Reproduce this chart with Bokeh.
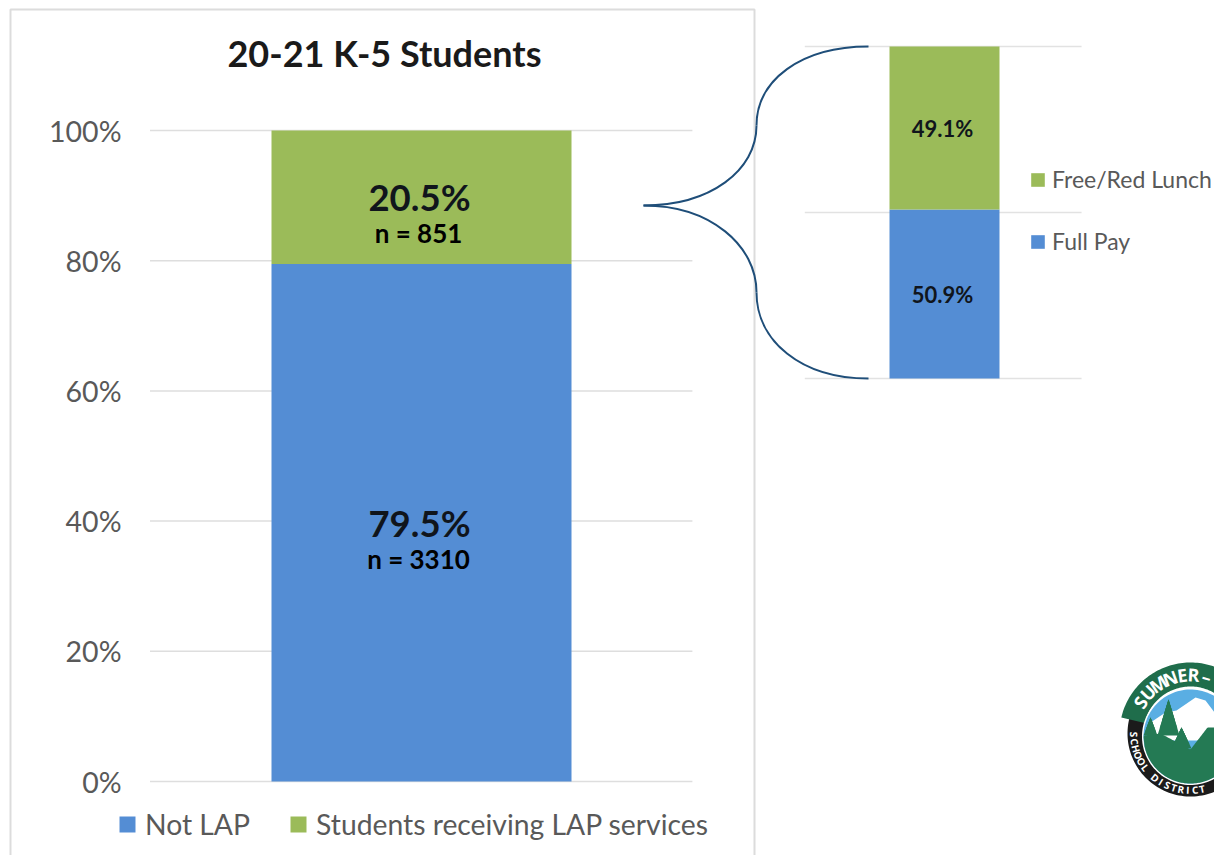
import numpy as np
from bokeh.plotting import figure
from bokeh.models import Range1d, LinearAxis, FixedTicker, PrintfTickFormatter, Legend, LegendItem
from bokeh.core.properties import value
from bokeh.embed import file_html
from bokeh.resources import INLINE

# ---- data ----
title = "20-21 K-5 Students"
main_series = ["Not LAP", "Students receiving LAP services"]
main_values = [79.5, 20.5]
main_counts = ["n = 3310", "n = 851"]
detail_series = ["Full Pay", "Free/Red Lunch"]
detail_values = [50.9, 49.1]
main_ticks = [0, 20, 40, 60, 80, 100]
detail_ticks = [0, 50, 100]
blue, green = "#548dd4", "#9bbb59"
FONT = "Lato"

# ---- geometry of the page (reference pixels) ----
L, R, T, B = 0, 1214, 0, 855
def span(px0, px_per_unit, a, b):
    return Range1d((a - px0) / px_per_unit, (b - px0) / px_per_unit)

p = figure(width=R - L, height=B - T, output_backend="svg", toolbar_location=None,
           x_axis_location=None, y_axis_location=None, min_border=0,
           x_range=span(421, 300, L, R), y_range=span(781, -6.51, B, T))
p.outline_line_color = None
p.grid.visible = False
p.background_fill_color = "white"
p.border_fill_color = "white"
p.extra_x_ranges = {"detail": span(944, 110, L, R), "px": Range1d(L, R)}
p.extra_y_ranges = {"detail": span(378, -3.32, B, T), "px": Range1d(B, T)}
PX = dict(x_range_name="px", y_range_name="px")
DT = dict(x_range_name="detail", y_range_name="detail")

# panel border
p.line([10, 10, 754, 754], [860, 9, 9, 860], line_color="#dcdcdc", line_width=2, **PX)

# main grid + axis
for t in main_ticks:
    p.line([-0.905, 0.903], [t, t], line_color="#dedede", line_width=1.5)
axis = LinearAxis(fixed_location=(130 - 421) / 300, ticker=FixedTicker(ticks=main_ticks),
                  formatter=PrintfTickFormatter(format="%d%%"))
axis.axis_line_color = None
axis.major_tick_line_color = None
axis.minor_tick_line_color = None
axis.major_label_text_font = FONT
axis.major_label_text_font_size = "28.5px"
axis.major_label_text_color = "#595959"
axis.major_label_standoff = 3
p.add_layout(axis, "left")

# main stacked bar
tops = np.cumsum(main_values)
bottoms = tops - np.array(main_values)
r_main = [p.vbar(x=[0], width=1, bottom=[b], top=[t], fill_color=c, line_color=None)
          for b, t, c in zip(bottoms, tops, [blue, green])]
for b, v, n in zip(bottoms, main_values, main_counts):
    p.text([0], [b + v / 2], text=[f"{v}%"], text_font=value(FONT), text_font_style="bold",
           text_font_size="36.5px", text_color="#10151c", text_align="center",
           text_baseline="middle", x_offset=-2, y_offset=0)
    p.text([0], [b + v / 2], text=[n], text_font=value(FONT), text_font_style="bold",
           text_font_size="26px", text_color="#000000", text_align="center",
           text_baseline="middle", x_offset=-3, y_offset=36)

# detail chart
for t in detail_ticks:
    p.line([-1.27, 1.246], [t, t], line_color="#e2e2e2", line_width=1.5, **DT)
dtops = np.cumsum(detail_values)
dbottoms = dtops - np.array(detail_values)
r_detail = [p.vbar(x=[0], width=1, bottom=[b], top=[t], fill_color=c, line_color=None, **DT)
            for b, t, c in zip(dbottoms, dtops, [blue, green])]
for b, v in zip(dbottoms, detail_values):
    p.text([0], [b + v / 2], text=[f"{v}%"], text_font=value(FONT), text_font_style="bold",
           text_font_size="22px", text_color="#10151c", text_align="center",
           text_baseline="middle", x_offset=-2, **DT)

# brace
p.bezier([868, 756, 643, 756], [46, 125, 205, 292], [756, 643, 756, 868], [125, 205, 292, 378],
         [800, 756, 710, 756], [46, 170, 205, 340], [756, 710, 756, 800], [80, 205, 245, 378],
         line_color="#1f4e79", line_width=2, **PX)

# title
p.text([384], [52], text=[title], text_font=value(FONT), text_font_style="bold",
       text_font_size="36px", text_color="#1a1a1a", text_align="center", text_baseline="middle", **PX)

# legends
leg = Legend(items=[LegendItem(label=s, renderers=[r]) for s, r in zip(main_series, r_main)],
             orientation="horizontal", location=(117, 14), padding=0, margin=0, spacing=38,
             glyph_width=20, glyph_height=20, label_standoff=8, border_line_color=None,
             background_fill_alpha=0, label_text_font=FONT, label_text_font_size="28.3px",
             label_text_color="#595959")
p.add_layout(leg, "center")
leg2 = Legend(items=[LegendItem(label=s, renderers=[r]) for s, r in zip(detail_series[::-1], r_detail[::-1])],
              orientation="vertical", location=(1029, 600), padding=0, margin=0, spacing=34,
              glyph_width=17, glyph_height=17, label_standoff=6, border_line_color=None,
              background_fill_alpha=0, label_text_font=FONT, label_text_font_size="23px",
              label_text_color="#595959")
p.add_layout(leg2, "center")

# ---- district logo (decoration) ----
cx, cy = 1190, 733
def ring(r0, r1, a0, a1, cx=cx, cy=cy):
    th = np.radians(np.linspace(a0, a1, 90))
    xs = np.r_[cx + r1 * np.cos(th), cx + r0 * np.cos(th[::-1])]
    ys = np.r_[cy - r1 * np.sin(th), cy - r0 * np.sin(th[::-1])]
    return xs, ys
def disc(r, x0, y0):
    th = np.radians(np.linspace(0, 360, 120))
    return x0 + r * np.cos(th), y0 - r * np.sin(th)

x, y = ring(47, 63, 165, 375)
p.patch(x, y, fill_color="#1b1b1b", line_color=None, **PX)
x, y = ring(47, 71, 14, 167)
p.patch(x, y, fill_color="#1f6d4b", line_color=None, **PX)
x0, y0, rr = 1190, 736, 47
x, y = disc(rr + 1.5, x0, y0)
p.patch(x, y, fill_color="white", line_color=None, **PX)
x, y = disc(rr, x0, y0)
p.patch(x, y, fill_color="#5aaee3", line_color=None, **PX)
p.patch([1150, 1165, 1176, 1195, 1205, 1214, 1214, 1150],
        [722, 712, 710, 697, 700, 712, 740, 740], fill_color="white", line_color=None, **PX)
# ground: below a ridge line, inside the circle
gx = np.linspace(x0 - rr, x0 + rr, 90)
ridge = np.interp(gx, [1143, 1160, 1190, 1207, 1240], [735, 733, 749, 727, 727])
circ = np.sqrt(np.maximum(rr**2 - (gx - x0)**2, 0))
top = np.minimum(np.maximum(ridge, y0 - circ), y0 + circ)
p.patch(np.r_[gx, gx[::-1]], np.r_[top, (y0 + circ)[::-1]], fill_color="#247a54", line_color=None, **PX)
for ax, ay, hw, h in [(1168, 699, 11, 36), (1150, 717, 7, 18), (1181, 727, 10, 21)]:
    for f in (0.4, 0.6, 0.8, 1.0):
        p.patch([ax - hw * f, ax, ax + hw * f], [ay + h * f, ay, ay + h * f],
                fill_color="#247a54", line_color=None, **PX)

def arc_text(chars, angles, r, size, sign):
    angles = np.array(angles, dtype=float)
    th = np.radians(angles)
    p.text(cx + r * np.cos(th), cy - r * np.sin(th), text=list(chars), angle=angles + sign * 90,
           angle_units="deg", text_font=value("Open Sans"), text_font_style="bold", text_font_size=size,
           text_color="white", text_align="center", text_baseline="middle", **PX)
arc_text("SUMNER–", [148, 136, 123, 110, 98, 87, 74], 59, "18px", -1)
arc_text("SCHOOL DISTRICT", 181 + 7.2 * np.arange(15), 56.5, "10px", 1)

open("out.html", "w").write(file_html(p, INLINE))
